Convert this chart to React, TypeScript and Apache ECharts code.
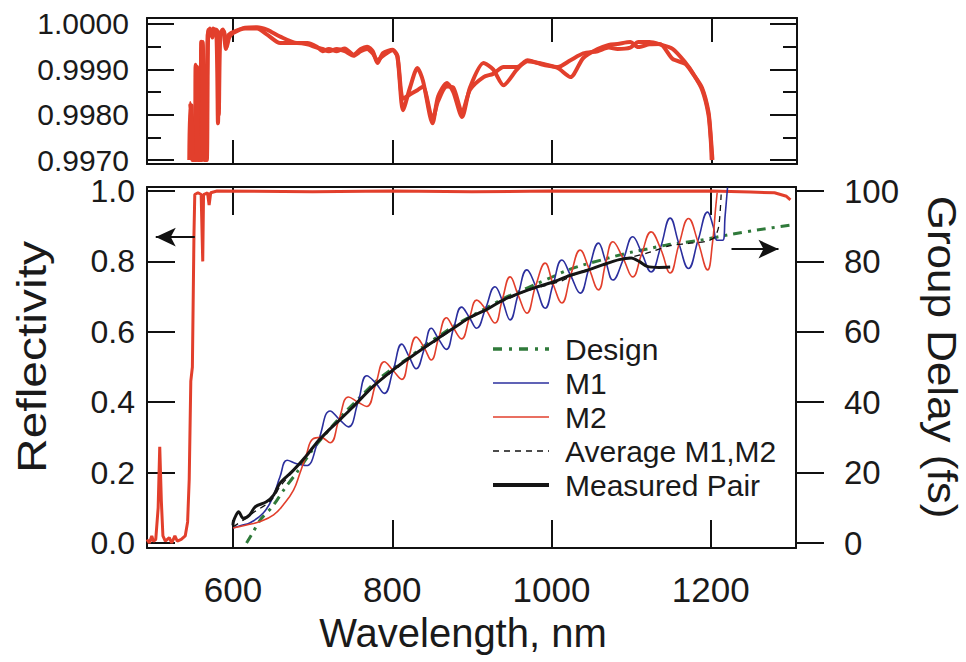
import React, { useEffect, useRef } from "react";
import * as echarts from "echarts";

// ---------- data ----------
const X_TICKS = [600, 800, 1000, 1200];
const TOP_MAJOR = [0.997, 0.998, 0.999, 1.0];
const TOP_MINOR = [0.9975, 0.9985, 0.9995];
const REFL_TICKS = [0, 0.2, 0.4, 0.6, 0.8, 1.0];
const GD_TICKS = [0, 20, 40, 60, 80, 100];

// top panel: reflectivity of the two mirrors (zoomed)
const topR1 = [
  [545, 0.997], [546, 0.99826], [548, 0.9978], [549, 0.997], [552, 0.997], [553, 0.9991], [555, 0.9988], [556, 0.997],
  [559, 0.997], [560, 0.99961], [562, 0.9994], [563, 0.99804], [565, 0.997], [567, 0.997], [569, 0.99987], [572, 0.99975],
  [575, 0.9999], [579, 0.9998], [581, 0.99781], [583, 0.99975], [587, 0.99988], [591, 0.99945], [594, 0.99975], [600, 0.99982],
  [615, 0.99992], [630, 0.99993], [643, 0.99987], [659, 0.99972], [680, 0.99958], [693, 0.99958], [705, 0.9995], [712, 0.9994],
  [720, 0.99945], [730, 0.9994], [740, 0.99946], [751, 0.99932], [760, 0.99945], [768, 0.9995], [775, 0.9994], [781, 0.99914],
  [788, 0.99936], [800, 0.99943], [806, 0.99927], [813, 0.9981], [822, 0.99861], [831, 0.99903], [838, 0.99875], [850, 0.99781],
  [857, 0.9984], [868, 0.9987], [876, 0.9985], [887, 0.99795], [897, 0.9986], [914, 0.99914], [926, 0.999], [939, 0.99865],
  [956, 0.999], [969, 0.9992], [989, 0.9991], [1007, 0.99903], [1023, 0.99883], [1039, 0.99925], [1057, 0.99945], [1071, 0.99954],
  [1082, 0.99956], [1098, 0.9996], [1108, 0.99949], [1122, 0.99955], [1135, 0.99956], [1151, 0.99923], [1167, 0.99912],
  [1177, 0.99889], [1188, 0.99859], [1196, 0.99806], [1199, 0.9975], [1201, 0.997],
];
const topR2 = [
  [547, 0.997], [548, 0.9982], [550, 0.997], [554, 0.997], [555, 0.99905], [557, 0.997], [561, 0.997], [562, 0.9996],
  [564, 0.997], [566, 0.997], [568, 0.99975], [571, 0.9999], [574, 0.9997], [578, 0.99988], [580, 0.99985], [582, 0.998],
  [584, 0.9998], [588, 0.99985], [592, 0.9995], [595, 0.9997], [600, 0.9998], [615, 0.9999], [630, 0.9999], [643, 0.99976],
  [659, 0.99958], [680, 0.99958], [693, 0.99955], [705, 0.99948], [712, 0.99945], [720, 0.9994], [730, 0.99945], [740, 0.9994],
  [751, 0.9993], [760, 0.9994], [768, 0.99945], [775, 0.99935], [781, 0.9992], [788, 0.9993], [800, 0.99942], [806, 0.9993],
  [813, 0.99835], [822, 0.99845], [831, 0.99854], [838, 0.99862], [850, 0.9979], [857, 0.9983], [868, 0.99862], [876, 0.9986],
  [887, 0.99805], [897, 0.99855], [914, 0.99883], [926, 0.9989], [939, 0.99905], [956, 0.99905], [969, 0.99918], [989, 0.99912],
  [1007, 0.99905], [1023, 0.9992], [1039, 0.99935], [1057, 0.9994], [1071, 0.99948], [1082, 0.99945], [1098, 0.99948],
  [1108, 0.9996], [1122, 0.9996], [1135, 0.99955], [1151, 0.99945], [1167, 0.99915], [1177, 0.9989], [1188, 0.99855],
  [1196, 0.998], [1199, 0.9974], [1200, 0.997],
];

// bottom panel: reflectivity (left axis)
const reflectivity = [
  [492, 0.01], [495, 0.0], [498, 0.02], [500, 0.005], [503, 0.01], [506, 0.1], [508, 0.273], [510, 0.12], [512, 0.02],
  [515, 0.005], [520, 0.015], [523, 0.0], [527, 0.02], [530, 0.005], [535, 0.01], [540, 0.02], [543, 0.06], [545, 0.18],
  [547, 0.46], [549, 0.5], [551, 0.88], [552, 0.99], [556, 0.995], [560, 0.99], [562, 0.8], [563, 0.99], [568, 0.995],
  [570, 0.96], [572, 0.995], [580, 1.0], [700, 0.998], [800, 1.0], [900, 0.998], [1000, 1.0], [1100, 0.999], [1200, 1.0],
  [1250, 0.997], [1280, 0.995], [1295, 0.985], [1300, 0.975],
];

// bottom panel: group delay (right axis, fs)
const design = [
  [617, 0], [625, 3], [634, 6.5], [650, 10.5], [665, 15.5], [680, 20], [700, 26.5], [720, 32], [740, 37], [760, 41.5],
  [780, 46], [800, 49.5], [820, 52.5], [840, 56], [860, 59], [880, 62], [900, 64.5], [920, 67], [940, 69.5], [960, 71.5],
  [980, 73.5], [1000, 75.5], [1020, 77.5], [1040, 79], [1064, 80.5], [1080, 81.5], [1102, 82.7], [1120, 83.5], [1145, 84.7],
  [1186, 86], [1228, 87.8], [1260, 89], [1300, 90.3],
];
const m1 = [
  [600, 4.3], [610, 5], [621, 5.7], [638, 8.5], [650, 13], [659, 18.8], [668, 23.5], [680, 22.5], [692, 22], [707, 29],
  [722, 37.5], [734, 35], [745, 33], [757, 40], [768, 47.5], [779, 45.5], [790, 42.5], [801, 49], [812, 56.5], [821, 53],
  [830, 49.5], [840, 55], [849, 61], [858, 58], [868, 55], [877, 61], [887, 67], [897, 64], [906, 61], [917, 66.5],
  [929, 72.8], [938, 69], [948, 63.4], [958, 70.5], [969, 77.6], [980, 73], [992, 66.7], [1002, 73.5], [1013, 80.4],
  [1024, 76], [1036, 71], [1047, 78], [1059, 85.2], [1068, 80], [1077, 74.7], [1090, 80.5], [1102, 87], [1113, 82.5],
  [1125, 77], [1137, 84], [1149, 92.3], [1160, 85], [1172, 78], [1184, 86], [1196, 94], [1203, 90], [1208, 86],
  [1215, 86], [1218, 93], [1221, 101],
];
const m2 = [
  [600, 4.3], [617, 5.1], [634, 6.1], [651, 8], [663, 10.8], [676, 15], [684, 19.8], [692, 25], [700, 29.5], [710, 30],
  [722, 28.5], [733, 35], [745, 41.5], [757, 40], [768, 38.8], [779, 45], [790, 51.5], [801, 49], [812, 46.5], [821, 53],
  [830, 58.5], [840, 55.5], [849, 52], [858, 58], [868, 64], [877, 61], [887, 58], [897, 64], [906, 69], [917, 66.5],
  [929, 62.5], [938, 69], [948, 75.6], [958, 70.5], [969, 65.3], [980, 73], [992, 79.5], [1002, 73.5], [1013, 68.2],
  [1024, 76], [1036, 83.2], [1047, 78], [1059, 71.9], [1068, 79.5], [1077, 85.6], [1090, 80.8], [1102, 75.6], [1113, 82],
  [1125, 88.4], [1137, 83.6], [1149, 76.7], [1160, 84.8], [1172, 92.2], [1184, 85.5], [1196, 77.6], [1202, 85],
  [1206, 95], [1208, 99.5],
];
const averageM1M2 = [
  [600, 4.6], [613, 6.5], [628, 9], [642, 11], [651, 13], [659, 16], [676, 20.5], [693, 25], [705, 28.5], [719, 32],
  [734, 35], [745, 37.5], [760, 41], [776, 44.5], [790, 47], [805, 49.5], [818, 52], [830, 54], [849, 56.5], [868, 59.5],
  [887, 62.5], [907, 65], [927, 67.5], [947, 69.5], [967, 71.5], [990, 73], [1013, 74.5], [1036, 77], [1059, 78.5],
  [1080, 80.2], [1102, 81.3], [1125, 82.7], [1149, 84.5], [1172, 85.1], [1196, 85.8], [1205, 87], [1210, 90], [1213, 99],
];
const measuredPair = [
  [600, 5], [600.5, 6.1], [604, 8], [607, 8.9], [613, 7], [621, 8], [628, 10.3], [642, 11.7], [651, 13.6], [659, 17],
  [676, 20.7], [693, 25], [705, 28.5], [720, 32], [734, 35], [750, 38.5], [776, 44.5], [800, 49], [818, 52], [840, 55.5],
  [860, 58.5], [880, 61.5], [897, 64], [920, 66.5], [939, 69], [960, 71], [981, 72.7], [1000, 74], [1023, 76], [1045, 77.5],
  [1064, 79], [1085, 80.5], [1100, 81], [1110, 80], [1120, 78.6], [1135, 78.3], [1149, 78.4],
];

// ---------- styling ----------
const FONT = "'Liberation Sans', Arial, Helvetica, sans-serif";
const INK = "#1a1a1a";
const AX = { color: "#111", width: 2 };
const RED = "#e23f2c";
const BLUE = "#2b2f9e";
const GREEN = "#2f7a3a";
const X_MIN = 492;
const X_MAX = 1307;

function xAxisDef(grid: number, pos: string, labels: boolean) {
  return {
    type: "value",
    gridIndex: grid,
    position: pos,
    min: X_MIN,
    max: X_MAX,
    axisLine: { show: true, onZero: false, lineStyle: AX },
    axisTick: { show: true, inside: true, length: grid === 0 ? 24 : 28, lineStyle: AX, customValues: X_TICKS },
    axisLabel: labels
      ? { show: true, customValues: X_TICKS, fontSize: 35, margin: 24, color: INK, fontFamily: FONT,
          formatter: (v: number) => String(v) }
      : { show: false },
    splitLine: { show: false },
  };
}

export default function App() {
  const ref = useRef<HTMLDivElement>(null);
  useEffect(() => {
    if (!ref.current) return;
    const chart = echarts.init(ref.current, null, { renderer: "svg" });
    const topMin = 0.996912;
    const topMax = 1.000132;
    const option: any = {
      animation: false,
      backgroundColor: "#fff",
      grid: [
        { left: 147, top: 18, width: 650, height: 146 },
        { left: 147, top: 187, width: 649, height: 361 },
      ],
      xAxis: [
        xAxisDef(0, "bottom", false),
        xAxisDef(0, "top", false),
        xAxisDef(1, "bottom", true),
        xAxisDef(1, "top", false),
      ],
      yAxis: [
        {
          type: "value", gridIndex: 0, position: "left", min: topMin, max: topMax,
          axisLine: { show: true, lineStyle: AX },
          axisTick: { show: true, inside: true, length: 27, lineStyle: AX, customValues: TOP_MAJOR },
          axisLabel: { show: true, customValues: TOP_MAJOR, fontSize: 30, margin: 18, color: INK, fontFamily: FONT,
            formatter: (v: number) => v.toFixed(4) },
          splitLine: { show: false },
        },
        {
          type: "value", gridIndex: 0, position: "left", min: topMin, max: topMax,
          axisLine: { show: false },
          axisTick: { show: true, inside: true, length: 14, lineStyle: AX, customValues: TOP_MINOR },
          axisLabel: { show: false }, splitLine: { show: false },
        },
        {
          type: "value", gridIndex: 0, position: "right", min: topMin, max: topMax,
          axisLine: { show: true, lineStyle: AX },
          axisTick: { show: true, inside: true, length: 27, lineStyle: AX, customValues: TOP_MAJOR },
          axisLabel: { show: false }, splitLine: { show: false },
        },
        {
          type: "value", gridIndex: 0, position: "right", min: topMin, max: topMax,
          axisLine: { show: false },
          axisTick: { show: true, inside: true, length: 14, lineStyle: AX, customValues: TOP_MINOR },
          axisLabel: { show: false }, splitLine: { show: false },
        },
        {
          type: "value", gridIndex: 1, position: "left", min: -0.0142, max: 1.0114,
          axisLine: { show: true, lineStyle: AX },
          axisTick: { show: true, inside: true, length: 28, lineStyle: AX, customValues: REFL_TICKS },
          axisLabel: { show: true, customValues: REFL_TICKS, fontSize: 32, margin: 12, color: INK, fontFamily: FONT,
            formatter: (v: number) => v.toFixed(1) },
          splitLine: { show: false },
        },
        {
          type: "value", gridIndex: 1, position: "right", min: -1.42, max: 101.14,
          axisLine: { show: true, lineStyle: AX },
          axisTick: { show: true, inside: false, length: 28, lineStyle: AX, customValues: GD_TICKS },
          axisLabel: { show: true, customValues: GD_TICKS, fontSize: 33, margin: 48, color: INK, fontFamily: FONT },
          splitLine: { show: false },
        },
      ],
      legend: {
        data: [
          { name: "Design", lineStyle: { width: 3.5, color: GREEN, type: [9, 7, 3, 7] } },
          { name: "M1", lineStyle: { width: 1.6, color: BLUE } },
          { name: "M2", lineStyle: { width: 1.6, color: RED } },
          { name: "Average M1,M2", lineStyle: { width: 1.3, color: "#111", type: [6, 5] } },
          { name: "Measured Pair", lineStyle: { width: 4, color: "#151515" } },
        ],
        orient: "vertical",
        left: 486,
        top: 329,
        itemWidth: 56,
        itemHeight: 14,
        itemGap: 4,
        selectedMode: false,
        itemStyle: { opacity: 0 },
        textStyle: { fontSize: 30, fontFamily: FONT, color: INK, lineHeight: 30, padding: [0, 0, 0, 11] },
      },
      graphic: [
        {
          type: "text", x: 463, y: 633,
          style: { text: "Wavelength, nm", font: `40px ${FONT}`, fill: INK, textAlign: "center", textVerticalAlign: "middle" },
        },
        {
          type: "text", x: 32, y: 357, rotation: Math.PI / 2, scaleX: 1.2,
          style: { text: "Reflectivity", font: `40px ${FONT}`, fill: INK, textAlign: "center", textVerticalAlign: "middle" },
        },
        {
          type: "text", x: 942, y: 357, rotation: -Math.PI / 2, scaleX: 1.1,
          style: { text: "Group Delay (fs)", font: `40px ${FONT}`, fill: INK, textAlign: "center", textVerticalAlign: "middle" },
        },
      ],
      series: [
        {
          name: "R1 top", type: "line", xAxisIndex: 0, yAxisIndex: 0, data: topR1, showSymbol: false, symbol: "none",
          smooth: 0.25, lineStyle: { color: RED, width: 4 }, z: 3,
        },
        {
          name: "R2 top", type: "line", xAxisIndex: 0, yAxisIndex: 0, data: topR2, showSymbol: false, symbol: "none",
          smooth: 0.25, lineStyle: { color: RED, width: 4 }, z: 3,
        },
        {
          name: "Reflectivity", type: "line", xAxisIndex: 2, yAxisIndex: 4, data: reflectivity, symbol: "none",
          lineStyle: { color: RED, width: 3 }, itemStyle: { color: RED }, z: 2,
          markLine: {
            silent: true, symbol: ["none", "arrow"], symbolSize: [14, 20], label: { show: false },
            lineStyle: { color: "#111", width: 2, type: "solid" },
            data: [[{ coord: [552, 0.869] }, { coord: [503, 0.869] }]],
          },
        },
        {
          name: "Design", type: "line", xAxisIndex: 2, yAxisIndex: 5, data: design, symbol: "none", smooth: 0.3,
          lineStyle: { color: GREEN, width: 3, type: [9, 6, 3, 6] }, itemStyle: { color: GREEN }, z: 4,
          markLine: {
            silent: true, symbol: ["none", "arrow"], symbolSize: [14, 20], label: { show: false },
            lineStyle: { color: "#111", width: 2, type: "solid" },
            data: [[{ coord: [1226, 83.5] }, { coord: [1285, 83.5] }]],
          },
        },
        {
          name: "M1", type: "line", xAxisIndex: 2, yAxisIndex: 5, data: m1, symbol: "none", smooth: 0.45,
          lineStyle: { color: BLUE, width: 1.6 }, itemStyle: { color: BLUE }, z: 5,
        },
        {
          name: "M2", type: "line", xAxisIndex: 2, yAxisIndex: 5, data: m2, symbol: "none", smooth: 0.45,
          lineStyle: { color: RED, width: 1.6 }, itemStyle: { color: RED }, z: 5,
        },
        {
          name: "Average M1,M2", type: "line", xAxisIndex: 2, yAxisIndex: 5, data: averageM1M2, symbol: "none", smooth: 0.3,
          lineStyle: { color: "#111", width: 1.3, type: [6, 5] }, itemStyle: { color: "#111" }, z: 6,
        },
        {
          name: "Measured Pair", type: "line", xAxisIndex: 2, yAxisIndex: 5, data: measuredPair, symbol: "none", smooth: 0.3,
          lineStyle: { color: "#151515", width: 3 }, itemStyle: { color: "#151515" }, z: 7,
        },
      ],
    };
    chart.setOption(option);
    return () => chart.dispose();
  }, []);
  return (
    <div
      ref={ref}
      style={{ position: "fixed", left: 0, top: 0, width: 966, height: 662, background: "#fff" }}
    />
  );
}
